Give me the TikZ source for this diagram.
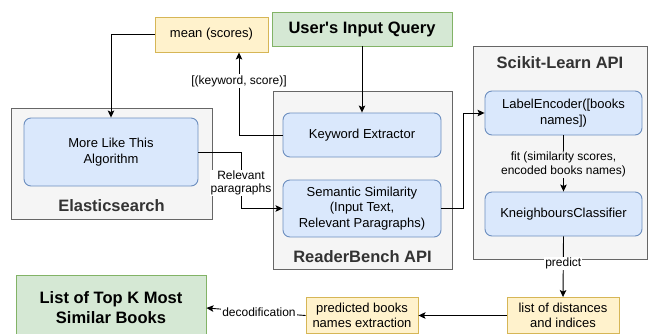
\documentclass[tikz,border=0pt]{standalone}
\usepackage{fontspec}
\setmainfont{Liberation Sans}[Ligatures=TeXOff]
\usetikzlibrary{arrows.meta,calc}
\definecolor{bfill}{HTML}{DAE8FC}
\definecolor{bstroke}{HTML}{6C8EBF}
\definecolor{yfill}{HTML}{FFF2CC}
\definecolor{ystroke}{HTML}{D6B656}
\definecolor{gfill}{HTML}{D5E8D4}
\definecolor{gstroke}{HTML}{82B366}
\definecolor{cfill}{HTML}{F5F5F5}
\definecolor{cstroke}{HTML}{666666}
\definecolor{ctext}{HTML}{333333}
\tikzset{
  container/.style={draw=cstroke, fill=cfill, line width=0.9pt, inner sep=0pt},
  bluebox/.style={draw=bstroke, fill=bfill, rounded corners=7pt, line width=0.9pt, inner sep=0pt, align=center, font=\fontsize{13}{15.5}\selectfont},
  yellowbox/.style={draw=ystroke, fill=yfill, line width=0.9pt, inner sep=0pt, align=center, font=\fontsize{13}{15.5}\selectfont},
  greenbox/.style={draw=gstroke, fill=gfill, line width=0.9pt, inner sep=0pt, align=center, font=\bfseries\fontsize{16.5}{20}\selectfont},
  title/.style={font=\bfseries\fontsize{16.5}{20}\selectfont, text=ctext, inner sep=0pt},
  lbl/.style={font=\fontsize{12}{13.5}\selectfont, fill=white, inner sep=1pt, align=center},
  conn/.style={line width=0.9pt, black},
  arr/.style={conn, -{Stealth[length=7pt,width=6.5pt,inset=1.5pt]}},
}
\begin{document}
\begin{tikzpicture}[x=1pt,y=-1pt]
\useasboundingbox (0,0) rectangle (648,333);
% containers
\node[container, minimum width=201pt, minimum height=111pt] (es) at (111.5,163.5) {};
\node[container, minimum width=179pt, minimum height=178pt] (rb) at (362.5,180) {};
\node[container, minimum width=174pt, minimum height=213pt] (sk) at (560,152.5) {};
\node[title] (estitle) at (111.5,206) {Elasticsearch};
\node[title] (rbtitle) at (362.5,257) {ReaderBench API};
\node[title] (sktitle) at (560,63) {Scikit-Learn API};
% boxes
\node[yellowbox, minimum width=113pt, minimum height=35pt] (mean) at (211.5,34.5) {mean (scores)};
\node[greenbox, minimum width=180pt, minimum height=34pt] (query) at (362,29) {User's Input Query};
\node[bluebox, minimum width=174pt, minimum height=68pt] (mlt) at (111,152) {More Like This\\Algorithm};
\node[bluebox, minimum width=158pt, minimum height=44pt] (ke) at (362,135) {Keyword Extractor};
\node[bluebox, minimum width=158pt, minimum height=57pt] (sem) at (362,208.5) {Semantic Similarity\\(Input Text,\\Relevant Paragraphs)};
\node[bluebox, minimum width=157pt, minimum height=44pt] (le) at (563.5,113) {LabelEncoder([books\\names])};
\node[bluebox, minimum width=157pt, minimum height=44pt] (kn) at (563.5,214) {KneighboursClassifier};
\node[yellowbox, minimum width=112pt, minimum height=36pt] (dist) at (563,315.5) {list of distances\\and indices};
\node[yellowbox, minimum width=112pt, minimum height=36pt] (pred) at (362,315.5) {predicted books\\names extraction};
\node[greenbox, minimum width=190pt, minimum height=66pt] (topk) at (111,308) {List of Top K Most\\Similar Books};
% helper coordinates
\coordinate (kx) at (239,0);
\coordinate (rx) at (241,0);
\coordinate (sx) at (463,0);
% connectors
\draw[arr] (mean.west) -| (mlt.north);
\draw[arr] (ke.west) -| (kx |- mean.south);
\node[lbl] (kwlbl) at (239,81) {[(keyword, score)]};
\draw[arr] (query.south) -- (ke.north);
\draw[arr] (mlt.east) -- (rx |- mlt.east) -- (rx |- sem.west) -- (sem.west);
\node[lbl] (rplbl) at (241,183) {Relevant\\paragraphs};
\draw[arr] (sem.east) -- (sx |- sem.east) -- (sx |- le.west) -- (le.west);
\draw[arr] (le.south) -- (kn.north) node[lbl, fill=cfill, midway, yshift=-1pt] {fit (similarity scores,\\encoded books names)};
\draw[arr] (kn.south) -- (dist.north) node[lbl, pos=0.45] {predict};
\draw[arr] (dist.west) -- (pred.east);
\draw[arr] (pred.west) -- (topk.east) node[lbl, pos=0.47] {decodification};
\end{tikzpicture}
\end{document}
